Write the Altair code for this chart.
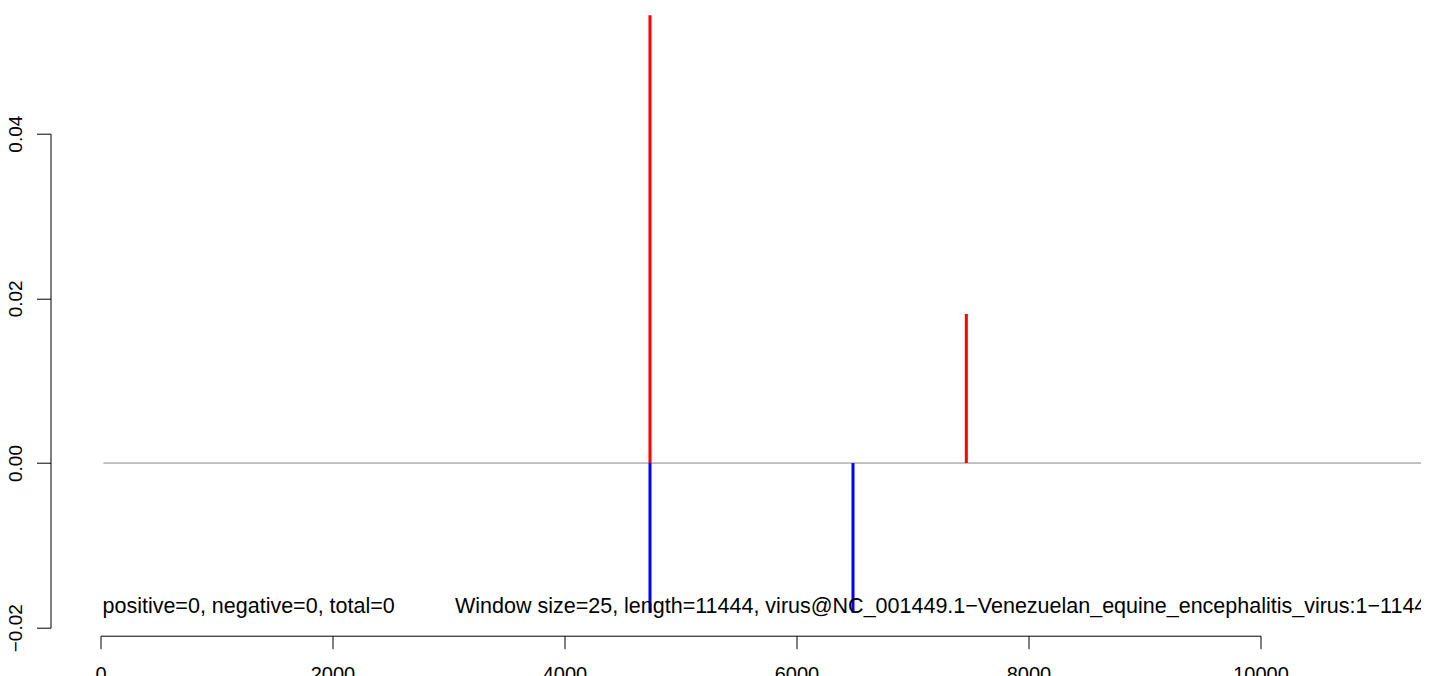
import altair as alt
import pandas as pd

# ---- data ----
pos_x = [4737, 7464]
pos_val = [0.0544, 0.0181]
neg_x = [4737, 6487]
neg_val = [-0.0182, -0.0182]
baseline_x = [25, 11444]
x_ticks = [0, 2000, 4000, 6000, 8000, 10000]
y_ticks = [-0.02, 0.0, 0.02, 0.04]
notes = ["positive=0, negative=0, total=0",
         "Window size=25, length=11444, virus@NC_001449.1\u2212Venezuelan_equine_encephalitis_virus:1\u221211444"]
notes_x = [17, 3056]
notes_y = [-0.01827, -0.01827]

FONT = "Liberation Sans"

pos_df = pd.DataFrame({"x": pos_x, "y0": [0.0] * len(pos_x), "y": pos_val})
neg_df = pd.DataFrame({"x": neg_x, "y0": [0.0] * len(neg_x), "y": neg_val})
base_df = pd.DataFrame({"x": [baseline_x[0]], "x2": [baseline_x[1]], "y": [0.0]})
note_df = pd.DataFrame({"x": notes_x, "y": notes_y, "t": notes})

xs = alt.Scale(domain=[0, 10000], nice=False, zero=False)
ys = alt.Scale(domain=[-0.02, 0.04], nice=False, zero=False)

xa = alt.Axis(values=x_ticks, format="d", title=None, grid=False,
              tickSize=13, labelPadding=16, offset=8,
              domainColor="black", tickColor="black", labelColor="black",
              domainWidth=1, tickWidth=1,
              labelFont=FONT, labelFontSize=20, labelFlush=False, labelOverlap=False)
ya = alt.Axis(values=y_ticks, format=".2f", title=None, grid=False,
              tickSize=14, labelPadding=15, offset=50,
              labelAngle=270, labelAlign="center", labelBaseline="alphabetic",
              domainColor="black", tickColor="black", labelColor="black",
              domainWidth=1, tickWidth=1,
              labelFont=FONT, labelFontSize=19, labelFlush=False, labelOverlap=False)

zero_line = alt.Chart(base_df).mark_rule(color="#888888", strokeWidth=1).encode(
    x=alt.X("x:Q", scale=xs, axis=xa),
    x2="x2:Q",
    y=alt.Y("y:Q", scale=ys, axis=ya),
)

neg_rules = alt.Chart(neg_df).mark_rule(color="#0000ff", strokeWidth=3).encode(
    x=alt.X("x:Q", scale=xs, axis=xa),
    y=alt.Y("y0:Q", scale=ys, axis=ya),
    y2="y:Q",
)

pos_rules = alt.Chart(pos_df).mark_rule(color="#ff0000", strokeWidth=3).encode(
    x=alt.X("x:Q", scale=xs, axis=xa),
    y=alt.Y("y0:Q", scale=ys, axis=ya),
    y2="y:Q",
)

texts = alt.Chart(note_df).mark_text(align="left", baseline="alphabetic",
                                     font=FONT, fontSize=21.5, color="black").encode(
    x=alt.X("x:Q", scale=xs, axis=xa),
    y=alt.Y("y:Q", scale=ys, axis=ya),
    text="t:N",
)

chart = alt.layer(zero_line, neg_rules, pos_rules, texts).properties(
    width=1160, height=494,
    padding={"left": 92.5, "top": 125.7, "right": 160.5, "bottom": 48.3},
    autosize=alt.AutoSizeParams(type="none"),
    background="white",
).configure_view(stroke=None, strokeWidth=0)

chart.save("out.html", embed_options={"renderer": "svg", "actions": False})
